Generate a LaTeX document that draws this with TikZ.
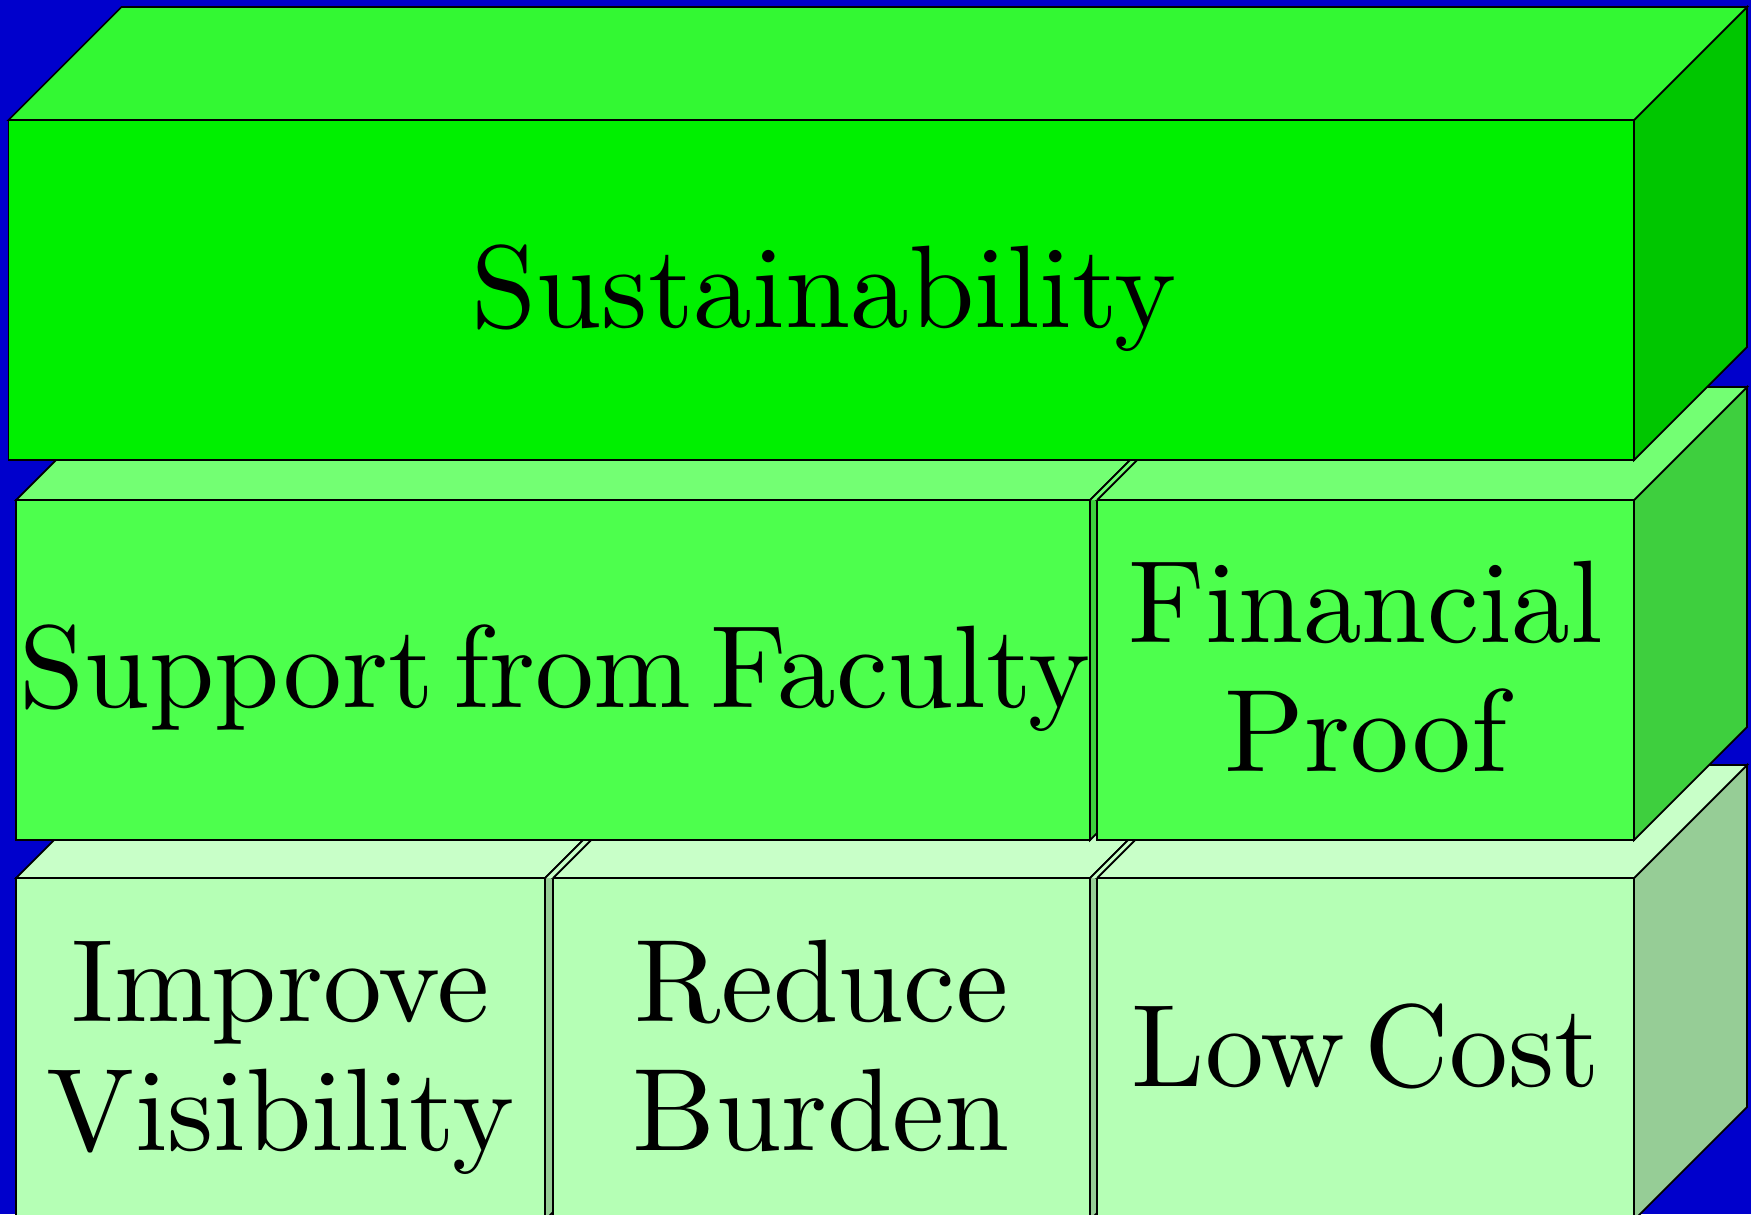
\documentclass[tikz,border=0pt]{standalone}
\usepackage{tikz}
\usetikzlibrary{positioning}

\font\boxfont="[lmroman10-regular]" at 33.4pt

\definecolor{bgblue}{RGB}{0,0,204}
\definecolor{topfront}{RGB}{0,240,0}
\definecolor{toptop}{RGB}{51,248,51}
\definecolor{topside}{RGB}{0,198,0}
\definecolor{midfront}{RGB}{77,255,77}
\definecolor{midtop}{RGB}{115,255,115}
\definecolor{midside}{RGB}{62,207,62}
\definecolor{lowfront}{RGB}{181,255,181}
\definecolor{lowtop}{RGB}{200,255,200}
\definecolor{lowside}{RGB}{150,205,150}

\tikzset{
  face/.style={draw=black, line width=0.5pt, line join=miter},
  boxtext/.style={draw=none, align=center, inner sep=0pt,
    text height=0pt, text depth=0pt,
    font=\fontsize{33.4}{36.5}\selectfont\boxfont,
    execute at begin node={\spaceskip=5.5pt\relax}}
}

\begin{document}
\begin{tikzpicture}[x=0.1mm, y=-0.1mm]

% Background
\useasboundingbox (0,0) rectangle (1751,1214);
\fill[bgblue] (0,0) rectangle (1751,1214);
\clip (0,0) rectangle (1751,1214);

% Bottom row: Improve Visibility
\draw[face, fill=lowside] (545,878) -- (658,765) -- (658,1107) -- (545,1220) -- cycle;
\draw[face, fill=lowtop] (16,878) -- (129,765) -- (658,765) -- (545,878) -- cycle;
\draw[face, fill=lowfront] (16,878) rectangle (545,1220);
\node[boxtext] (improve) at (280.5,1150) {Improve\\Visibility};

% Bottom row: Reduce Burden
\draw[face, fill=lowside] (1090,878) -- (1203,765) -- (1203,1107) -- (1090,1220) -- cycle;
\draw[face, fill=lowtop] (553,878) -- (666,765) -- (1203,765) -- (1090,878) -- cycle;
\draw[face, fill=lowfront] (553,878) rectangle (1090,1220);
\node[boxtext] (reduce) at (821.5,1150) {Reduce\\Burden};

% Bottom row: Low Cost
\draw[face, fill=lowside] (1634,878) -- (1747,765) -- (1747,1107) -- (1634,1220) -- cycle;
\draw[face, fill=lowtop] (1097,878) -- (1210,765) -- (1747,765) -- (1634,878) -- cycle;
\draw[face, fill=lowfront] (1097,878) rectangle (1634,1220);
\node[boxtext] (lowcost) at (1366,1086) {Low Cost};

% Bottom row: gaps between boxes
\draw[face, fill=lowtop] (545,878) -- (658,765) -- (666,765) -- (553,878);
\draw[face, fill=lowtop] (1090,878) -- (1203,765) -- (1210,765) -- (1097,878);

% Middle row: Support from Faculty
\draw[face, fill=midside] (1090,500) -- (1203,387) -- (1203,727) -- (1090,840) -- cycle;
\draw[face, fill=midtop] (16,500) -- (129,387) -- (1203,387) -- (1090,500) -- cycle;
\draw[face, fill=midfront] (16,500) rectangle (1090,840);
\node[boxtext] (support) at (555,707) {Support from Faculty};

% Middle row: Financial Proof
\draw[face, fill=midside] (1634,500) -- (1747,387) -- (1747,727) -- (1634,840) -- cycle;
\draw[face, fill=midtop] (1097,500) -- (1210,387) -- (1747,387) -- (1634,500) -- cycle;
\draw[face, fill=midfront] (1097,500) rectangle (1634,840);
\node[boxtext] (finance) at (1366,771) {Financial\\Proof};

% Middle row: gap between boxes
\draw[face, fill=midtop] (1090,500) -- (1203,387) -- (1210,387) -- (1097,500);

% Top: Sustainability
\draw[face, fill=topside] (1634,120) -- (1747,7) -- (1747,347) -- (1634,460) -- cycle;
\draw[face, fill=toptop] (8.5,120) -- (121.5,7) -- (1747,7) -- (1634,120) -- cycle;
\draw[face, fill=topfront] (8.5,120) rectangle (1634,460);
\node[boxtext] (sustain) at (824,327) {Sustainability};

\end{tikzpicture}
\end{document}
